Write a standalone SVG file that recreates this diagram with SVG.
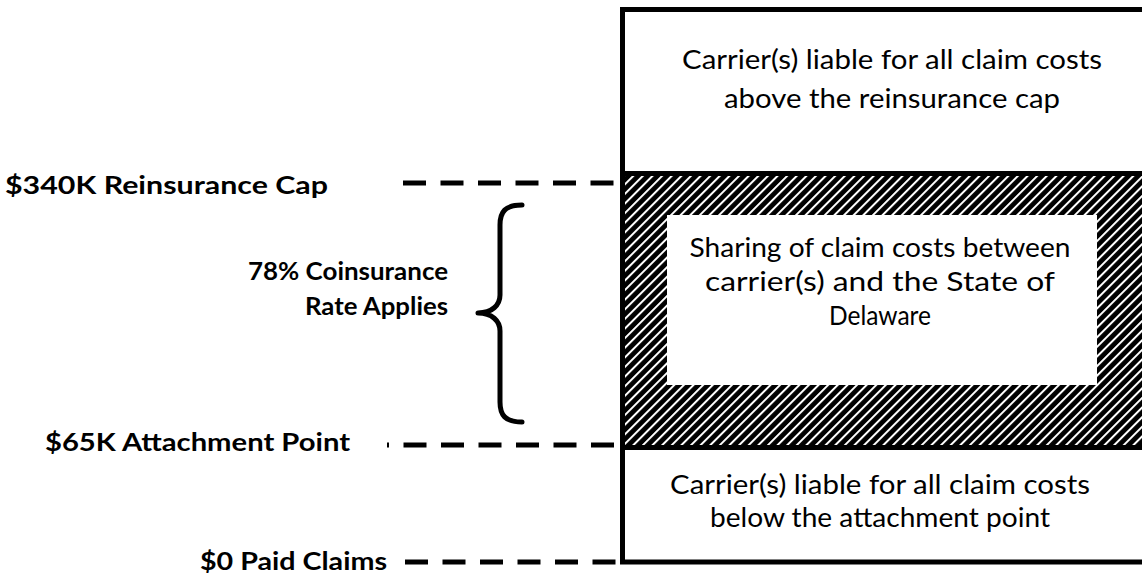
<svg xmlns="http://www.w3.org/2000/svg" width="1142" height="578" viewBox="0 0 1142 578">
<defs>
<pattern id="hatch" patternUnits="userSpaceOnUse" width="6.8" height="6.8" patternTransform="rotate(45)">
<rect width="6.8" height="6.8" fill="#000"/>
<rect x="0" y="0" width="2" height="6.8" fill="#fff"/>
</pattern>
<style>
.box{fill:#fff;stroke:#000;stroke-width:5}
.t{font-family:Lato,"Open Sans","Liberation Sans",sans-serif;font-size:26.5px;fill:#000;text-anchor:middle}
.b{font-family:Lato,"Open Sans","Liberation Sans",sans-serif;font-size:25.5px;font-weight:bold;fill:#000}
.dash{stroke:#000;stroke-width:5;stroke-dasharray:23 14.5;fill:none}
.brace{stroke:#000;stroke-width:5;fill:none;stroke-linecap:round;stroke-linejoin:round}
</style>
</defs>
<rect width="1142" height="578" fill="#fff"/>
<g id="top-layer">
<rect class="box" x="622.5" y="9.5" width="530" height="552.5"/>
<text class="t" x="892" y="69" textLength="420" lengthAdjust="spacingAndGlyphs">Carrier(s) liable for all claim costs</text>
<text class="t" x="892" y="108" textLength="336" lengthAdjust="spacingAndGlyphs">above the reinsurance cap</text>
</g>
<g id="sharing-layer">
<rect x="622.5" y="173.5" width="530" height="274" fill="url(#hatch)" stroke="#000" stroke-width="5"/>
<rect x="667" y="215" width="430" height="170" fill="#fff"/>
<text class="t" x="880" y="257" textLength="381" lengthAdjust="spacingAndGlyphs">Sharing of claim costs between</text>
<text class="t" x="880" y="291" textLength="350" lengthAdjust="spacingAndGlyphs">carrier(s) and the State of</text>
<text class="t" x="880" y="325" textLength="102" lengthAdjust="spacingAndGlyphs">Delaware</text>
</g>
<g id="bottom-layer">
<text class="t" x="880" y="494" textLength="420" lengthAdjust="spacingAndGlyphs">Carrier(s) liable for all claim costs</text>
<text class="t" x="880" y="527" textLength="340" lengthAdjust="spacingAndGlyphs">below the attachment point</text>
</g>
<g id="labels">
<text class="b" x="5" y="194" textLength="323" lengthAdjust="spacingAndGlyphs">$340K Reinsurance Cap</text>
<text class="b" x="448" y="280" text-anchor="end" textLength="200" lengthAdjust="spacingAndGlyphs">78% Coinsurance</text>
<text class="b" x="448" y="315" text-anchor="end" textLength="143" lengthAdjust="spacingAndGlyphs">Rate Applies</text>
<text class="b" x="45" y="451" textLength="305" lengthAdjust="spacingAndGlyphs">$65K Attachment Point</text>
<text class="b" x="200" y="570" textLength="187" lengthAdjust="spacingAndGlyphs">$0 Paid Claims</text>
</g>
<g id="connectors">
<line class="dash" x1="403" y1="183" x2="616" y2="183"/>
<line class="dash" x1="387" y1="445" x2="616" y2="445" stroke-dashoffset="21"/>
<line class="dash" x1="405" y1="562" x2="616" y2="562"/>
<path class="brace" d="M522,205 C505,205 500,212 500,225 L500,295 C500,305 492,313 478,313 C492,313 500,321 500,331 L500,402 C500,415 505,422 522,422"/>
</g>
</svg>
